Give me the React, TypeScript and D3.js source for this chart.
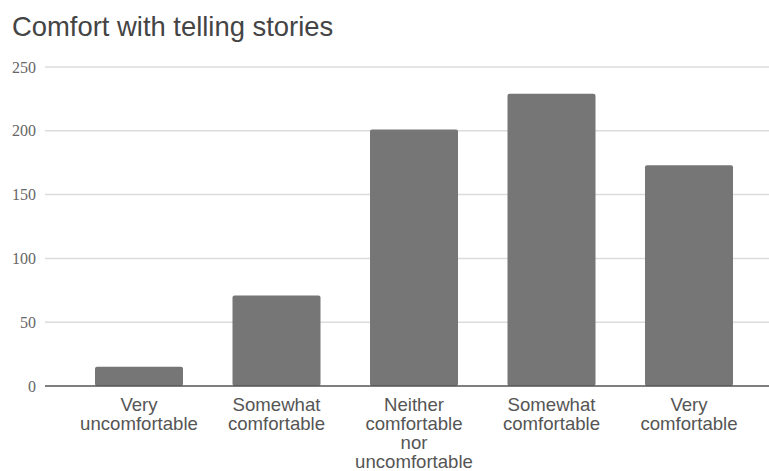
import React from "react";
import * as d3 from "d3";

// Survey responses: comfort with telling stories
const categories: string[][] = [
  ["Very", "uncomfortable"],
  ["Somewhat", "comfortable"],
  ["Neither", "comfortable", "nor", "uncomfortable"],
  ["Somewhat", "comfortable"],
  ["Very", "comfortable"],
];
const counts: number[] = [15, 71, 201, 229, 173];
const yTicks: number[] = [0, 50, 100, 150, 200, 250];
const title = "Comfort with telling stories";

const W = 769;
const H = 471;

export default function App() {
  const keys = categories.map((_, i) => String(i));
  const x = d3
    .scaleBand<string>()
    .domain(keys)
    .range([70.25, 757.75])
    .paddingInner(0.36)
    .paddingOuter(0.18);
  const y = d3.scaleLinear().domain([0, 250]).range([386, 67]);
  const gridLeft = 45;
  const sans = "'Liberation Sans', Arial, Helvetica, sans-serif";
  const serif = "'Liberation Serif', 'Times New Roman', serif";

  return (
    <svg
      width={W}
      height={H}
      style={{ position: "fixed", left: 0, top: 0, background: "#fff" }}
    >
      <text x={12} y={36} fontFamily={sans} fontSize={27.4} fill="#444">
        {title}
      </text>
      {yTicks.map((t) => (
        <g key={t}>
          {t !== 0 && (
            <line
              x1={gridLeft}
              x2={W}
              y1={y(t)}
              y2={y(t)}
              stroke="#dcdcdc"
              strokeWidth={1.5}
            />
          )}
          <text
            x={36}
            y={y(t)}
            dy="0.35em"
            textAnchor="end"
            fontFamily={serif}
            fontSize={16}
            fill="#666"
          >
            {t}
          </text>
        </g>
      ))}
      {counts.map((v, i) => (
        <rect
          key={i}
          x={x(String(i))}
          y={y(v)}
          width={x.bandwidth()}
          height={y(0) - y(v)}
          rx={2}
          ry={2}
          fill="#767676"
        />
      ))}
      <line
        x1={gridLeft}
        x2={W}
        y1={y(0)}
        y2={y(0)}
        stroke="#555"
        strokeWidth={1.5}
      />
      {categories.map((lines, i) => (
        <text
          key={i}
          textAnchor="middle"
          fontFamily={sans}
          fontSize={18.6}
          fill="#555"
        >
          {lines.map((ln, j) => (
            <tspan
              key={j}
              x={(x(String(i)) as number) + x.bandwidth() / 2}
              y={411 + j * 19}
            >
              {ln}
            </tspan>
          ))}
        </text>
      ))}
    </svg>
  );
}
